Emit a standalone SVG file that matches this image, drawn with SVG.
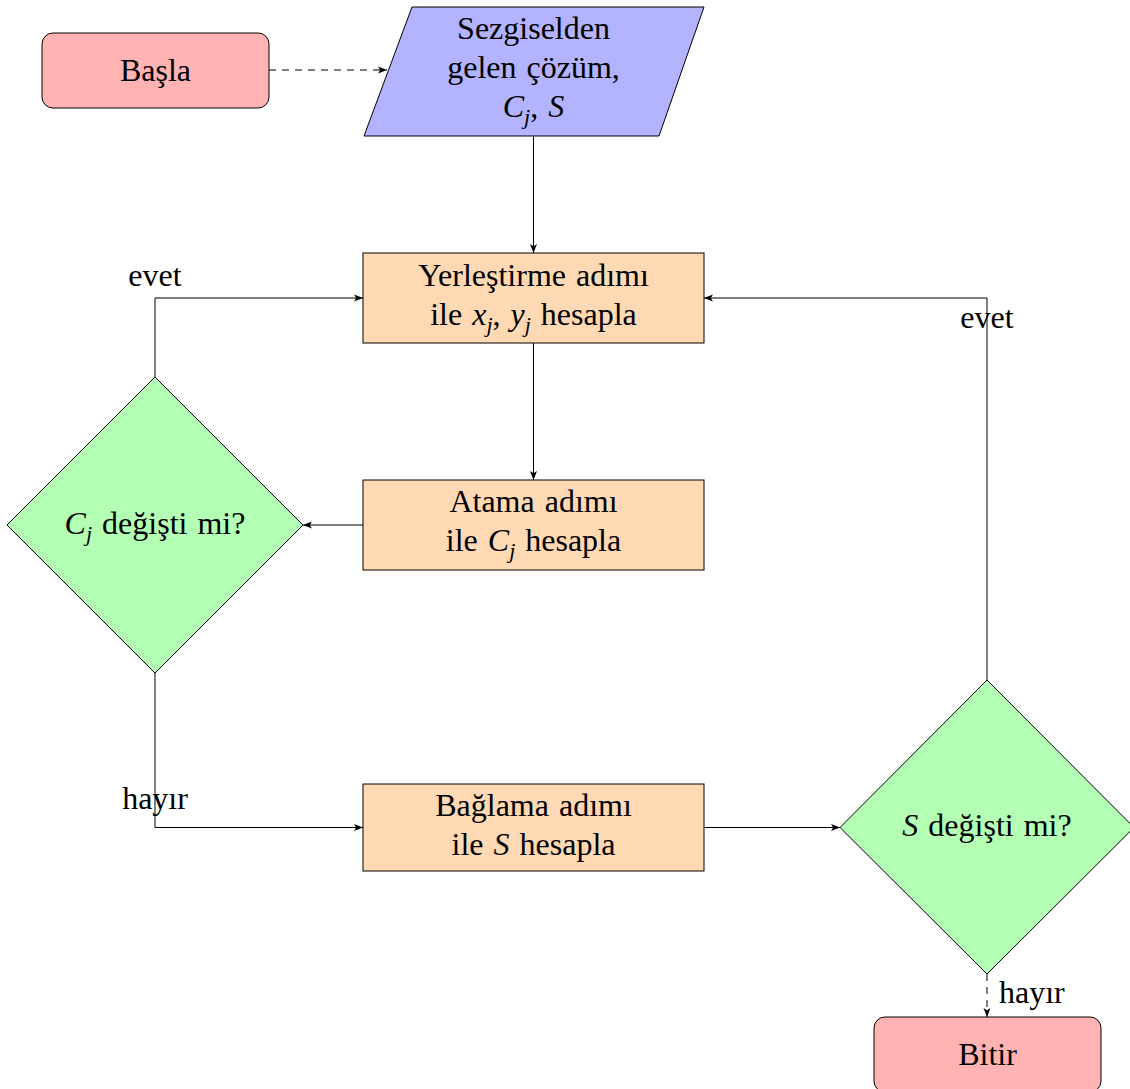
<svg xmlns="http://www.w3.org/2000/svg" width="1130" height="1089" viewBox="0 0 1130 1089">
  <style>
    .edge { fill: none; stroke: #000; stroke-width: 1; }
    .dash { stroke-dasharray: 7 6; }
    .shape { stroke: #000; stroke-width: 1; }
    .term { fill: #FFB3B3; }
    .io { fill: #B3B3FF; }
    .proc { fill: #FFD9B3; }
    .dec { fill: #B3FFB3; }
    text { font-family: "Liberation Serif", "Times New Roman", serif; font-size: 32px; fill: #000; word-spacing: 2px; }
    .c { text-anchor: middle; }
    .m { font-style: italic; }
    .sub { font-style: italic; font-size: 22px; }
  </style>
  <defs>
    <marker id="arr" markerUnits="userSpaceOnUse" markerWidth="10" markerHeight="8" refX="9" refY="4" orient="auto">
      <path d="M0,0.5 L9,4 L0,7.5 L2.2,4 Z" fill="#000"/>
    </marker>
  </defs>

  <rect width="1130" height="1089" fill="#fff"/>

  <!-- connectors -->
  <g id="connectors">
    <line class="edge dash" x1="269" y1="70" x2="387" y2="70" marker-end="url(#arr)"/>
    <line class="edge" x1="533.5" y1="136" x2="533.5" y2="253" marker-end="url(#arr)"/>
    <line class="edge" x1="533.5" y1="343" x2="533.5" y2="480" marker-end="url(#arr)"/>
    <line class="edge" x1="363" y1="525" x2="303" y2="525" marker-end="url(#arr)"/>
    <polyline class="edge" points="155,377 155,298 363,298" marker-end="url(#arr)"/>
    <polyline class="edge" points="155,673 155,827.5 363,827.5" marker-end="url(#arr)"/>
    <line class="edge" x1="704" y1="827.5" x2="840" y2="827.5" marker-end="url(#arr)"/>
    <polyline class="edge" points="987,680 987,298 704,298" marker-end="url(#arr)"/>
    <line class="edge dash" x1="987" y1="974" x2="987" y2="1017" marker-end="url(#arr)"/>
    <text x="155" y="286" class="c">evet</text>
    <text x="987" y="328" class="c">evet</text>
    <text x="155" y="809" class="c">hayır</text>
    <text x="999" y="1003">hayır</text>
  </g>

  <!-- start -->
  <g id="start">
    <rect class="shape term" x="42" y="33" width="227" height="75" rx="11"/>
    <text x="155.5" y="81" class="c">Başla</text>
  </g>

  <!-- input -->
  <g id="input">
    <polygon class="shape io" points="412,7 704,7 659,136 364,136"/>
    <text x="533.5" y="39" class="c">Sezgiselden</text>
    <text x="533.5" y="78" class="c">gelen çözüm,</text>
    <text x="533.5" y="117" class="c"><tspan class="m">C</tspan><tspan class="sub" dy="7">j</tspan><tspan dy="-7">, </tspan><tspan class="m">S</tspan></text>
  </g>

  <!-- placement step -->
  <g id="placement">
    <rect class="shape proc" x="363" y="253" width="341" height="90"/>
    <text x="533.5" y="286" class="c">Yerleştirme adımı</text>
    <text x="533.5" y="325" class="c">ile <tspan class="m">x</tspan><tspan class="sub" dy="7">j</tspan><tspan dy="-7">, </tspan><tspan class="m">y</tspan><tspan class="sub" dy="7">j</tspan><tspan dy="-7"> hesapla</tspan></text>
  </g>

  <!-- assignment step -->
  <g id="assignment">
    <rect class="shape proc" x="363" y="480" width="341" height="90"/>
    <text x="533.5" y="512" class="c">Atama adımı</text>
    <text x="533.5" y="551" class="c">ile <tspan class="m">C</tspan><tspan class="sub" dy="7">j</tspan><tspan dy="-7"> hesapla</tspan></text>
  </g>

  <!-- Cj decision -->
  <g id="decision-cj">
    <polygon class="shape dec" points="155,377 303,525 155,673 7,525"/>
    <text x="155" y="534" class="c"><tspan class="m">C</tspan><tspan class="sub" dy="7">j</tspan><tspan dy="-7"> değişti mi?</tspan></text>
  </g>

  <!-- binding step -->
  <g id="binding">
    <rect class="shape proc" x="363" y="784" width="341" height="87"/>
    <text x="533.5" y="816" class="c">Bağlama adımı</text>
    <text x="533.5" y="855" class="c">ile <tspan class="m">S</tspan> hesapla</text>
  </g>

  <!-- S decision -->
  <g id="decision-s">
    <polygon class="shape dec" points="987,680 1134,827.5 987,974 840,827.5"/>
    <text x="987" y="836" class="c"><tspan class="m">S</tspan> değişti mi?</text>
  </g>

  <!-- end -->
  <g id="end">
    <rect class="shape term" x="874" y="1017" width="227" height="75" rx="11"/>
    <text x="987.5" y="1065" class="c">Bitir</text>
  </g>
</svg>
